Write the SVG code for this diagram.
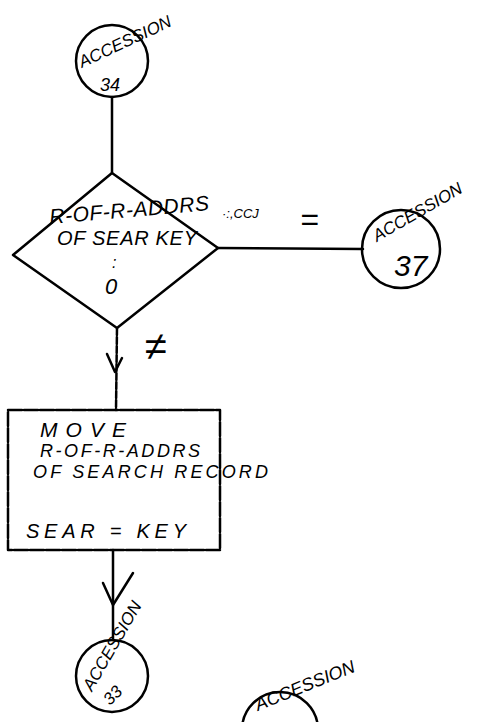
<svg xmlns="http://www.w3.org/2000/svg" width="486" height="722" viewBox="0 0 486 722">
<style>
.s{fill:none;stroke:#000;stroke-width:2.5;stroke-linecap:round;stroke-linejoin:round}
.t{font-family:"Liberation Sans","DejaVu Sans",sans-serif;fill:#000;font-style:italic}
</style>
<rect width="486" height="722" fill="#fff"/>
<g id="connectors">
<line class="s" x1="112" y1="97" x2="112" y2="173"/>
<line class="s" x1="218" y1="248" x2="363" y2="249"/>
<line class="s" x1="117" y1="328" x2="116" y2="410" stroke-dasharray="7 2"/>
<polyline class="s" points="107,354 115,372 122,358"/>
<line class="s" x1="113" y1="550" x2="113" y2="640"/>
<polyline class="s" points="103,583 113,605 133,573"/>
<text class="t" x="300" y="230" font-size="32" font-style="normal">=</text>
<text class="t" x="145" y="360" font-size="40" font-style="normal">≠</text>
</g>
<g id="n34">
<circle class="s" cx="112" cy="61" r="36"/>
<text class="t" x="82" y="68" font-size="17" transform="rotate(-25 82 68)">ACCESSION</text>
<text class="t" x="100" y="91" font-size="18">34</text>
</g>
<g id="decision">
<polygon class="s" points="112,173 218,248 117,328 13,255"/>
<text class="t" x="50" y="224" font-size="21" textLength="160" transform="rotate(-5 50 224)">R-OF-R-ADDRS</text>
<text class="t" x="57" y="245" font-size="20" textLength="140">OF SEAR KEY</text>
<text class="t" x="222" y="218" font-size="13">·:,CCJ</text>
<text class="t" x="112" y="268" font-size="16">:</text>
<text class="t" x="105" y="294" font-size="22">0</text>
</g>
<g id="n37">
<circle class="s" cx="401" cy="249" r="39"/>
<text class="t" x="377" y="242" font-size="17" transform="rotate(-30 377 242)">ACCESSION</text>
<text class="t" x="394" y="276" font-size="30">37</text>
</g>
<g id="move">
<rect class="s" x="8" y="410" width="212" height="140" stroke-dasharray="14 2"/>
<text class="t" x="40" y="437" font-size="21" textLength="86">MOVE</text>
<text class="t" x="40" y="457" font-size="18" textLength="160">R-OF-R-ADDRS</text>
<text class="t" x="33" y="478" font-size="18" textLength="235">OF SEARCH RECORD</text>
<text class="t" x="26" y="538" font-size="20" textLength="160">SEAR = KEY</text>
</g>
<g id="n33">
<circle class="s" cx="112" cy="676" r="36"/>
<text class="t" x="92" y="692" font-size="17" transform="rotate(-60 92 692)">ACCESSION</text>
<text class="t" x="110" y="706" font-size="17" transform="rotate(-45 110 706)">33</text>
</g>
<g id="n35">
<circle class="s" cx="280" cy="730" r="38"/>
<text class="t" x="258" y="711" font-size="18" transform="rotate(-22 258 711)">ACCESSION</text>
</g>
</svg>
